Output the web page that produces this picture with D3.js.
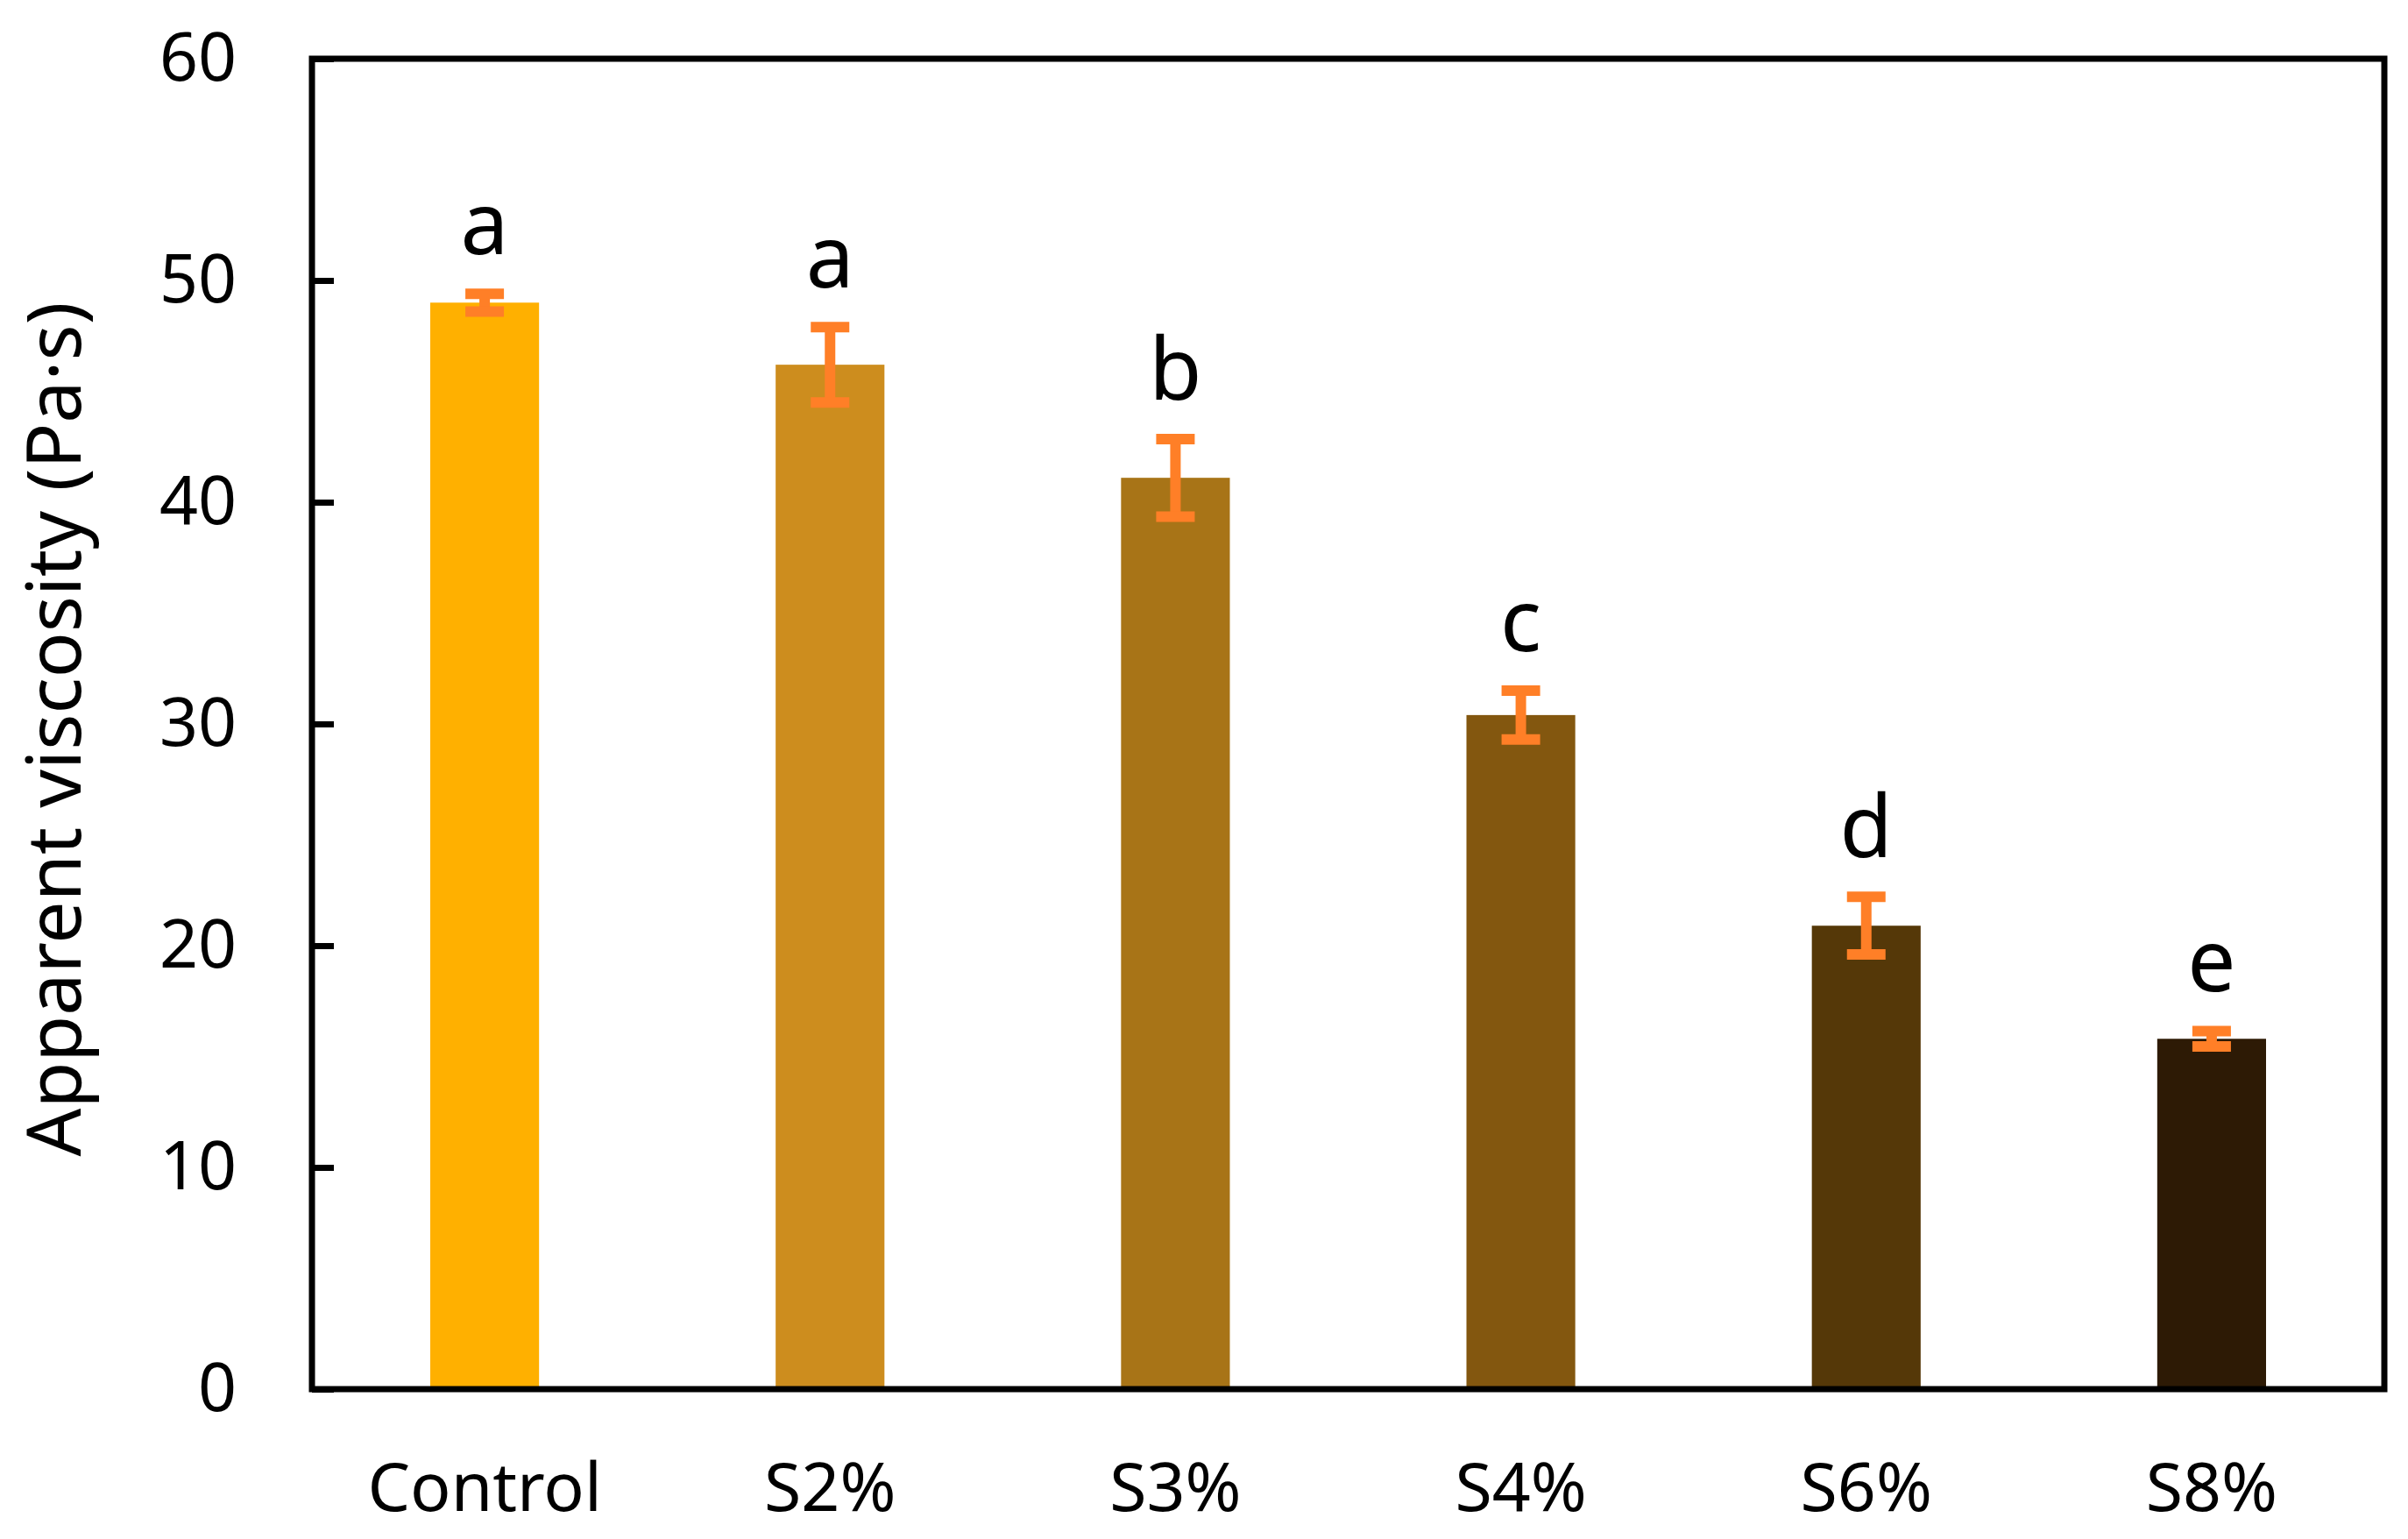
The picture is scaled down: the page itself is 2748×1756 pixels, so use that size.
<!DOCTYPE html>
<html>
<head>
<meta charset="utf-8">
<script src="https://cdn.jsdelivr.net/npm/d3@7"></script>
<style>
  html, body { margin: 0; padding: 0; background: #ffffff; }
  svg { display: block; }
  text { font-family: "Noto Sans", "DejaVu Sans", sans-serif; fill: #000; }
</style>
</head>
<body>
<svg id="chart" width="2748" height="1756"></svg>
<script>
// ---- data ----
const categories = ["Control", "S2%", "S3%", "S4%", "S6%", "S8%"];
const viscosity  = [49.0, 46.2, 41.1, 30.4, 20.9, 15.8];
const errors     = [0.4, 1.7, 1.75, 1.1, 1.3, 0.35];
const letters    = ["a", "a", "b", "c", "d", "e"];
const barColors  = ["#FFB000", "#CD8D1E", "#A87417", "#83570F", "#553808", "#2D1A05"];
const yTicks     = [0, 10, 20, 30, 40, 50, 60];
const yTitle     = "Apparent viscosity (Pa·s)";

// ---- layout ----
const W = 2748, H = 1756;
const margin = { left: 356, right: 27, top: 67, bottom: 171 };
const svg = d3.select("#chart");

const x = d3.scaleBand().domain(categories)
  .range([margin.left, W - margin.right]).paddingInner(0).paddingOuter(0);
const y = d3.scaleLinear().domain([0, 60]).range([H - margin.bottom, margin.top]);

const barW = x.bandwidth() * 0.315;
const data = categories.map((c, i) => ({
  cat: c, v: viscosity[i], e: errors[i], letter: letters[i], color: barColors[i]
}));

// bars
svg.append("g").selectAll("rect").data(data).join("rect")
  .attr("x", d => x(d.cat) + x.bandwidth() / 2 - barW / 2)
  .attr("y", d => y(d.v))
  .attr("width", barW)
  .attr("height", d => y(0) - y(d.v))
  .attr("fill", d => d.color);

// error bars
const errColor = "#FF7F27";
const capW = 44, errLW = 12;
const eg = svg.append("g").selectAll("g").data(data).join("g")
  .attr("transform", d => `translate(${x(d.cat) + x.bandwidth() / 2},0)`);
eg.append("line")
  .attr("x1", 0).attr("x2", 0)
  .attr("y1", d => y(d.v + d.e)).attr("y2", d => y(d.v - d.e))
  .attr("stroke", errColor).attr("stroke-width", errLW);
eg.append("line")
  .attr("x1", -capW / 2).attr("x2", capW / 2)
  .attr("y1", d => y(d.v + d.e)).attr("y2", d => y(d.v + d.e))
  .attr("stroke", errColor).attr("stroke-width", errLW);
eg.append("line")
  .attr("x1", -capW / 2).attr("x2", capW / 2)
  .attr("y1", d => y(d.v - d.e)).attr("y2", d => y(d.v - d.e))
  .attr("stroke", errColor).attr("stroke-width", errLW);

// significance letters
eg.append("text")
  .attr("x", 0)
  .attr("y", d => y(d.v + d.e) - 45)
  .attr("text-anchor", "middle")
  .style("font-size", "98px")
  .text(d => d.letter);

// y axis
const yAxis = d3.axisLeft(y).tickValues(yTicks).tickFormat(d3.format("d"))
  .tickSizeInner(-25).tickSizeOuter(0).tickPadding(86);
const ya = svg.append("g").attr("transform", `translate(${margin.left},0)`).call(yAxis);
ya.select(".domain").remove();
ya.selectAll(".tick line").attr("stroke", "#000").attr("stroke-width", 7);
ya.selectAll(".tick text").style("font-size", "77px")
  .style("font-family", '"Noto Sans", sans-serif').attr("fill", "#000");

// x axis
const xAxis = d3.axisBottom(x).tickSize(0).tickPadding(84);
const xa = svg.append("g").attr("transform", `translate(0,${y(0)})`).call(xAxis);
xa.select(".domain").remove();
xa.selectAll(".tick text").style("font-size", "77px")
  .style("font-family", '"Noto Sans", sans-serif').attr("fill", "#000");

// frame
svg.append("rect")
  .attr("x", margin.left).attr("y", margin.top)
  .attr("width", W - margin.right - margin.left)
  .attr("height", H - margin.bottom - margin.top)
  .attr("fill", "none").attr("stroke", "#000").attr("stroke-width", 7);

// y title
svg.append("text")
  .attr("transform", `translate(92,${(y(0) + y(60)) / 2 + 6}) rotate(-90)`)
  .attr("text-anchor", "middle")
  .style("font-size", "86px")
  .text(yTitle);
</script>
</body>
</html>
